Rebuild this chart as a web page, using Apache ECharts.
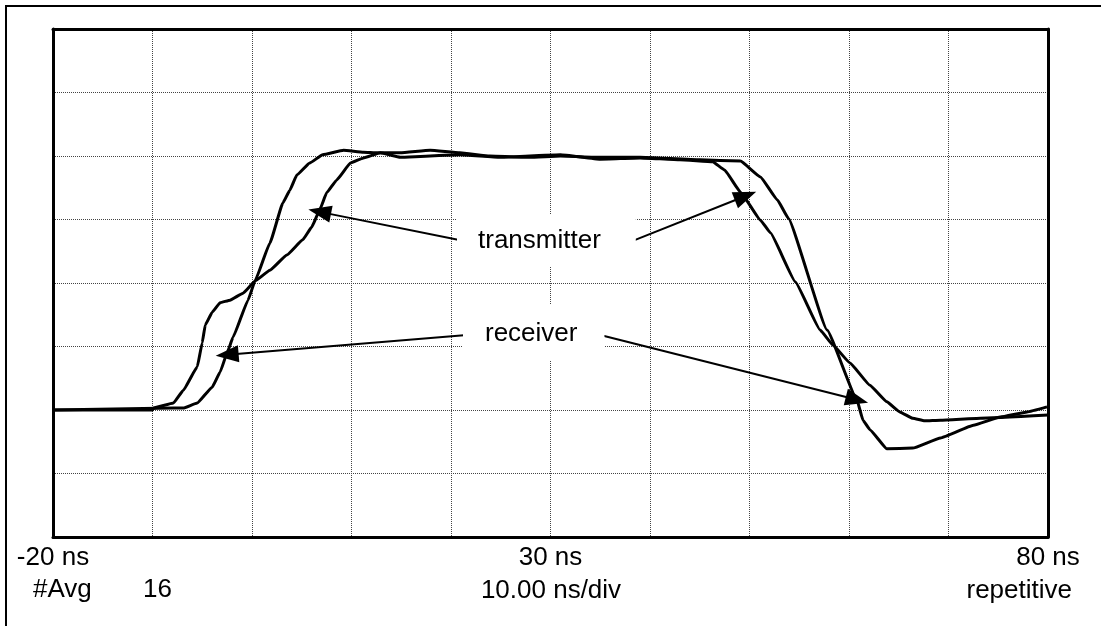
<!DOCTYPE html>
<html>
<head>
<meta charset="utf-8">
<title>transmitter / receiver edges</title>
<script src="https://cdn.jsdelivr.net/npm/echarts@6.0.0/dist/echarts.min.js"></script>
<style>
  html, body { margin: 0; padding: 0; background: #fff; }
  #chart { width: 1101px; height: 626px; }
</style>
</head>
<body>
<div id="chart"></div>
<script>
// time in ns, level in screen divisions (0 = bottom of screen, 8 = top)
const transmitter = [
  [-20, 2.0], [-10, 2.0], [-9.9, 2.03], [-7.9, 2.11], [-6.9, 2.31], [-5.5, 2.68],
  [-5.0, 3.06], [-4.7, 3.34], [-4.0, 3.54], [-3.2, 3.69], [-2.2, 3.73], [-0.9, 3.84],
  [0.3, 4.03], [1.8, 4.2], [3.5, 4.44], [5.1, 4.68], [6.0, 4.88], [6.8, 5.15],
  [7.5, 5.42], [8.5, 5.62], [9.9, 5.89], [11.2, 5.97], [12.9, 6.05], [14.9, 5.98],
  [17.9, 6.0], [20.9, 6.02], [24.9, 5.98], [27.9, 6.0], [31.0, 6.02], [35.0, 5.95],
  [39.0, 5.97], [43.0, 5.94], [46.3, 5.91], [47.5, 5.78], [49.1, 5.43], [51.1, 4.99],
  [52.1, 4.79], [54.6, 4.02], [57.1, 3.26], [58.4, 3.02], [60.1, 2.74], [62.1, 2.39],
  [63.8, 2.13], [65.1, 1.97], [66.4, 1.87], [67.6, 1.83], [69.2, 1.84], [73.2, 1.87],
  [80, 1.92]
];

const receiver = [
  [-20, 2.0], [-7.9, 2.03], [-6.9, 2.03], [-5.5, 2.11], [-4.0, 2.36], [-3.2, 2.6],
  [-2.5, 2.9], [-1.9, 3.15], [-0.4, 3.73], [0.3, 4.03], [1.8, 4.63], [3.1, 5.26],
  [3.8, 5.46], [4.5, 5.7], [5.8, 5.89], [7.1, 6.02], [9.2, 6.09], [11.2, 6.06],
  [12.6, 6.05], [14.9, 6.05], [17.9, 6.09], [20.9, 6.05], [23.9, 6.0], [27.9, 5.98],
  [31.0, 6.0], [35.0, 5.98], [39.0, 5.98], [45.0, 5.94], [49.1, 5.92], [51.1, 5.67],
  [52.8, 5.31], [53.9, 5.02], [57.8, 3.26], [60.8, 2.16], [61.4, 1.84], [62.1, 1.69],
  [63.8, 1.39], [66.4, 1.4], [69.2, 1.56], [72.5, 1.76], [75.2, 1.89], [77.9, 1.97],
  [79.9, 2.05]
];

const xTickLabels = { '-20': '-20 ns', '30': '30 ns', '80': '80 ns' };

// annotation arrows: [from (label side), to (curve)]
const transmitterArrows = [
  [[21.7, 4.65], [6.8, 5.12]],
  [[38.2, 4.66], [49.6, 5.37]]
];
const receiverArrows = [
  [[21.6, 3.18], [-2.5, 2.87]],
  [[35.3, 3.17], [60.8, 2.16]]
];

const FONT = '26px "Liberation Sans", Arial, sans-serif';

const chart = echarts.init(document.getElementById('chart'));

const arrowLines = transmitterArrows.concat(receiverArrows).map((a) => [
  { coord: a[0] },
  { coord: a[1] }
]);

const option = {
  animation: false,
  backgroundColor: '#fff',
  grid: { left: 53, right: 53, top: 29, bottom: 89 },
  xAxis: [
    {
      type: 'value',
      min: -20,
      max: 80,
      interval: 10,
      axisLine: { show: true, lineStyle: { color: '#000', width: 3 } },
      axisTick: { show: false },
      axisLabel: {
        color: '#000',
        fontSize: 26,
        fontFamily: '"Liberation Sans", Arial, sans-serif',
        margin: 8,
        showMinLabel: true,
        showMaxLabel: true,
        formatter: (v) => xTickLabels[String(v)] || ''
      },
      splitLine: { show: true, lineStyle: { color: '#444', type: 'dotted', width: 1 } }
    },
    {
      type: 'value',
      position: 'top',
      min: -20,
      max: 80,
      axisLine: { show: true, onZero: false, lineStyle: { color: '#000', width: 3 } },
      axisTick: { show: false },
      axisLabel: { show: false },
      splitLine: { show: false }
    }
  ],
  yAxis: [
    {
      type: 'value',
      min: 0,
      max: 8,
      interval: 1,
      axisLine: { show: true, onZero: false, lineStyle: { color: '#000', width: 3 } },
      axisTick: { show: false },
      axisLabel: { show: false },
      splitLine: { show: true, lineStyle: { color: '#444', type: 'dotted', width: 1 } }
    },
    {
      type: 'value',
      position: 'right',
      min: 0,
      max: 8,
      axisLine: { show: true, onZero: false, lineStyle: { color: '#000', width: 3 } },
      axisTick: { show: false },
      axisLabel: { show: false },
      splitLine: { show: false }
    }
  ],
  series: [
    {
      name: 'transmitter',
      type: 'line',
      data: transmitter,
      showSymbol: false,
      smooth: 0.1,
      smoothMonotone: 'x',
      lineStyle: { color: '#000', width: 3 },
      z: 3
    },
    {
      name: 'receiver',
      type: 'line',
      data: receiver,
      showSymbol: false,
      smooth: 0.1,
      smoothMonotone: 'x',
      lineStyle: { color: '#000', width: 3 },
      z: 3,
      markLine: {
        silent: true,
        symbol: ['none', 'triangle'],
        symbolSize: [17, 23],
        label: { show: false },
        lineStyle: { color: '#000', width: 2, type: 'solid' },
        itemStyle: { color: '#000' },
        data: arrowLines
      }
    }
  ],
  graphic: [
    {
      type: 'rect',
      z: 0,
      shape: { x: 6, y: 6, width: 1200, height: 700 },
      style: { fill: 'none', stroke: '#000', lineWidth: 2 }
    },
    {
      type: 'text',
      z: 100,
      left: 457,
      top: 215,
      style: {
        text: 'transmitter',
        font: FONT,
        fill: '#000',
        backgroundColor: '#fff',
        padding: [13, 35, 12, 21]
      }
    },
    {
      type: 'text',
      z: 100,
      left: 463,
      top: 305,
      style: {
        text: 'receiver',
        font: FONT,
        fill: '#000',
        backgroundColor: '#fff',
        padding: [16, 27, 14, 22]
      }
    },
    {
      type: 'text',
      left: 33,
      top: 577,
      style: { text: '#Avg', font: FONT, fill: '#000' }
    },
    {
      type: 'text',
      left: 143,
      top: 577,
      style: { text: '16', font: FONT, fill: '#000' }
    },
    {
      type: 'text',
      x: 551,
      y: 591,
      style: { text: '10.00 ns/div', font: FONT, fill: '#000', align: 'center', verticalAlign: 'middle' }
    },
    {
      type: 'text',
      x: 1072,
      y: 591,
      style: { text: 'repetitive', font: FONT, fill: '#000', align: 'right', verticalAlign: 'middle' }
    }
  ]
};

chart.setOption(option);
</script>
</body>
</html>
